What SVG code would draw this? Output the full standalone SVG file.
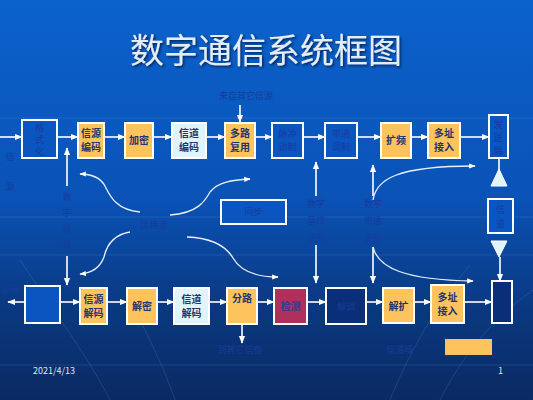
<svg xmlns="http://www.w3.org/2000/svg" width="533" height="400" viewBox="0 0 533 400">
<defs>
<linearGradient id="bg" x1="0" y1="0" x2="0" y2="1">
<stop offset="0" stop-color="#0b62cc"/>
<stop offset="0.5" stop-color="#0a52b6"/>
<stop offset="0.75" stop-color="#0a3a84"/>
<stop offset="1" stop-color="#0a2a62"/>
</linearGradient>
<marker id="ah" viewBox="0 0 10 10" refX="9" refY="5" markerWidth="5" markerHeight="5" orient="auto">
<path d="M0,1 L10,5 L0,9 z" fill="#ffffff"/>
</marker>
<filter id="sh" x="-10%" y="-10%" width="130%" height="130%">
<feDropShadow dx="1.5" dy="1.5" stdDeviation="0.8" flood-color="#001a50" flood-opacity="0.9"/>
</filter>
</defs>
<style>
text{font-family:"Noto Sans CJK SC","Liberation Sans",sans-serif;}
.org{fill:#fdc35c;stroke:#ffffff;stroke-width:2;}
.lbl{fill:#e2f4fb;stroke:#ffffff;stroke-width:2;}
.blu{fill:#0a55bf;stroke:#ffffff;stroke-width:2;}
.dbl{fill:#0a2f78;stroke:#ffffff;stroke-width:2;}
.red{fill:#b0305c;stroke:#ffffff;stroke-width:2;}
.bt{font-size:10px;font-weight:bold;fill:#253470;text-anchor:middle;}
.fd{font-size:9px;fill:#173c9c;text-anchor:middle;}
.ln{stroke:#ffffff;stroke-width:1.6;fill:none;}
.cv{stroke:#e8f0ff;stroke-width:1.3;fill:none;}
.grid{stroke:#6a9ae0;stroke-width:0.6;opacity:0.35;fill:none;}
</style>
<rect x="0" y="0" width="533" height="400" fill="url(#bg)"/>
<g id="grid">
<line class="grid" x1="0" y1="118" x2="533" y2="118"/>
<line class="grid" x1="0" y1="217" x2="533" y2="217"/>
<line class="grid" x1="0" y1="255" x2="533" y2="255"/>
<line class="grid" x1="0" y1="365" x2="533" y2="365"/>
<path class="grid" d="M20,260 C60,320 90,360 110,400"/>
<path class="grid" d="M130,300 C150,340 165,370 175,400"/>
<path class="grid" d="M390,400 C410,350 440,300 470,265"/>
<path class="grid" d="M440,400 C460,360 490,320 533,290"/>
</g>
<text x="266" y="63" font-size="34" fill="#e4ecf7" text-anchor="middle" filter="url(#sh)">数字通信系统框图</text>

<g id="connectors">
<line class="ln" x1="0" y1="137" x2="22" y2="137" marker-end="url(#ah)"/>
<line class="ln" x1="57" y1="137" x2="78" y2="137" marker-end="url(#ah)"/>
<line class="ln" x1="104" y1="137" x2="125" y2="137" marker-end="url(#ah)"/>
<line class="ln" x1="153" y1="137" x2="172" y2="137" marker-end="url(#ah)"/>
<line class="ln" x1="206" y1="137" x2="225" y2="137" marker-end="url(#ah)"/>
<line class="ln" x1="255" y1="137" x2="272" y2="137" marker-end="url(#ah)"/>
<line class="ln" x1="303" y1="137" x2="325" y2="137" marker-end="url(#ah)"/>
<line class="ln" x1="357" y1="137" x2="381" y2="137" marker-end="url(#ah)"/>
<line class="ln" x1="411" y1="137" x2="428" y2="137" marker-end="url(#ah)"/>
<line class="ln" x1="460" y1="137" x2="489" y2="137" marker-end="url(#ah)"/>
<line class="ln" x1="240" y1="105" x2="240" y2="122" marker-end="url(#ah)"/>
<line class="ln" x1="67" y1="186" x2="67" y2="148" marker-end="url(#ah)"/>
<line class="ln" x1="67" y1="256" x2="67" y2="285" marker-end="url(#ah)"/>
<line class="ln" x1="316" y1="196" x2="316" y2="162" marker-end="url(#ah)"/>
<line class="ln" x1="316" y1="245" x2="316" y2="283" marker-end="url(#ah)"/>
<line class="ln" x1="373" y1="196" x2="373" y2="165" marker-end="url(#ah)"/>
<line class="ln" x1="373" y1="247" x2="373" y2="283" marker-end="url(#ah)"/>
<path class="cv" d="M140,212 C116,210 110,196 105,186 C100,177 92,174 80,174" marker-end="url(#ah)"/>
<path class="cv" d="M170,215 C198,213 205,201 210,192 C218,182 232,180 250,179" marker-end="url(#ah)"/>
<path class="cv" d="M130,232 C112,235 106,248 104,257 C100,268 92,273 80,274" marker-end="url(#ah)"/>
<path class="cv" d="M187,237 C214,238 227,248 233,258 C241,272 258,277 278,277" marker-end="url(#ah)"/>
<path class="cv" d="M373,200 C376,180 395,166 475,166" marker-end="url(#ah)"/>
<path class="cv" d="M373,247 C378,268 405,280 473,281" marker-end="url(#ah)"/>
<line class="ln" x1="499" y1="158" x2="499" y2="170"/>
<path d="M499,169 L507,186 L491,186 z" fill="#e2f4fb" stroke="#ffffff" stroke-width="1"/>
<path d="M491,241 L507,241 L499,257 z" fill="#e2f4fb" stroke="#ffffff" stroke-width="1"/>
<line class="ln" x1="500" y1="257" x2="500" y2="281" marker-end="url(#ah)"/>
<line class="ln" x1="25" y1="302" x2="8" y2="302" marker-end="url(#ah)"/>
<line class="ln" x1="60" y1="302" x2="80" y2="302" marker-end="url(#ah)"/>
<line class="ln" x1="107" y1="302" x2="127" y2="302" marker-end="url(#ah)"/>
<line class="ln" x1="157" y1="302" x2="174" y2="302" marker-end="url(#ah)"/>
<line class="ln" x1="209" y1="302" x2="227" y2="302" marker-end="url(#ah)"/>
<line class="ln" x1="257" y1="302" x2="274" y2="302" marker-end="url(#ah)"/>
<line class="ln" x1="307" y1="302" x2="326" y2="302" marker-end="url(#ah)"/>
<line class="ln" x1="366" y1="302" x2="383" y2="302" marker-end="url(#ah)"/>
<line class="ln" x1="414" y1="302" x2="431" y2="302" marker-end="url(#ah)"/>
<line class="ln" x1="464" y1="302" x2="492" y2="302" marker-end="url(#ah)"/>
<line class="ln" x1="242" y1="324" x2="242" y2="343" marker-end="url(#ah)"/>
</g>

<g id="src-label"><text class="fd" x="10" y="160">信</text><text class="fd" x="10" y="190">源</text></g>
<g id="fmt-tx"><rect class="blu" x="22" y="120" width="35" height="38"/><text class="fd" x="39.5" y="131">格</text><text class="fd" x="39.5" y="143">式</text><text class="fd" x="39.5" y="155">化</text></g>
<g id="src-enc"><rect class="org" x="78" y="123" width="26" height="35"/><text class="bt" x="91" y="137">信源</text><text class="bt" x="91" y="151">编码</text></g>
<g id="encrypt"><rect class="org" x="125" y="123" width="28" height="35"/><text class="bt" x="139" y="144">加密</text></g>
<g id="ch-enc"><rect class="lbl" x="172" y="123" width="34" height="35"/><text class="bt" x="189" y="137">信道</text><text class="bt" x="189" y="151">编码</text></g>
<g id="mux"><rect class="org" x="225" y="123" width="30" height="35"/><text class="bt" x="240" y="137">多路</text><text class="bt" x="240" y="151">复用</text></g>
<g id="pulse-mod"><rect class="blu" x="272" y="123" width="31" height="35"/><text class="fd" x="287.5" y="137">脉冲</text><text class="fd" x="287.5" y="150">调制</text></g>
<g id="bp-mod"><rect class="blu" x="325" y="123" width="32" height="35"/><text class="fd" x="341" y="137">带通</text><text class="fd" x="341" y="150">调制</text></g>
<g id="spread"><rect class="org" x="381" y="123" width="30" height="35"/><text class="bt" x="396" y="144">扩频</text></g>
<g id="ma-tx"><rect class="org" x="428" y="123" width="32" height="35"/><text class="bt" x="444" y="137">多址</text><text class="bt" x="444" y="151">接入</text></g>
<g id="xmit"><rect class="blu" x="489" y="115" width="19" height="43"/><text class="fd" x="498.5" y="128">发</text><text class="fd" x="498.5" y="141">送</text><text class="fd" x="498.5" y="154">端</text></g>
<g id="other-src"><text class="fd" x="246" y="99">来自其它信源</text></g>
<g id="digital-info"><text class="fd" x="67" y="200">数</text><text class="fd" x="67" y="216">字</text><text class="fd" x="67" y="232">信</text><text class="fd" x="67" y="248">息</text></g>
<g id="bitstream"><text class="fd" x="154" y="228">比特流</text></g>
<g id="sync"><rect class="blu" x="221" y="200" width="65" height="24"/><text class="fd" x="253.5" y="215">同步</text></g>
<g id="bb-wave"><text class="fd" x="316" y="207">数字</text><text class="fd" x="316" y="224">基带</text><text class="fd" x="316" y="241">波形</text></g>
<g id="bp-wave"><text class="fd" x="373" y="207">数字</text><text class="fd" x="373" y="224">带通</text><text class="fd" x="373" y="241">波形</text></g>
<g id="channel"><rect class="blu" x="488" y="199" width="25" height="34"/><text class="fd" x="500.5" y="213">信</text><text class="fd" x="500.5" y="227">道</text></g>
<g id="sink-label"><text class="fd" x="10" y="292">信宿</text></g>
<g id="fmt-rx"><rect class="blu" x="25" y="286" width="35" height="37"/></g>
<g id="src-dec"><rect class="org" x="80" y="288" width="27" height="36"/><text class="bt" x="93.5" y="303">信源</text><text class="bt" x="93.5" y="317">解码</text></g>
<g id="decrypt"><rect class="org" x="127" y="288" width="30" height="36"/><text class="bt" x="142" y="310">解密</text></g>
<g id="ch-dec"><rect class="lbl" x="174" y="288" width="35" height="36"/><text class="bt" x="191.5" y="303">信道</text><text class="bt" x="191.5" y="317">解码</text></g>
<g id="demux"><rect class="org" x="227" y="288" width="30" height="36"/><text class="bt" x="242" y="302">分路</text></g>
<g id="detect"><rect class="red" x="274" y="288" width="33" height="36"/><text class="bt" x="290.5" y="310" style="fill:#2a3f95">检测</text></g>
<g id="demod"><rect class="dbl" x="326" y="288" width="40" height="36"/><text class="fd" x="346" y="310">解调</text></g>
<g id="despread"><rect class="org" x="383" y="288" width="31" height="35"/><text class="bt" x="398.5" y="310">解扩</text></g>
<g id="ma-rx"><rect class="org" x="431" y="285" width="33" height="38"/><text class="bt" x="447.5" y="301">多址</text><text class="bt" x="447.5" y="315">接入</text></g>
<g id="recv"><rect class="dbl" x="492" y="281" width="20" height="42"/></g>
<g id="other-sink"><text class="fd" x="240" y="353">到其它信宿</text></g>
<g id="ch-resp"><text class="fd" x="400" y="353">信道噪</text></g>
<g id="legend"><rect x="445" y="339" width="47" height="16" fill="#fdc35c"/></g>
<text x="33" y="374" font-size="9" fill="#dfe6f2" font-family="Liberation Sans,sans-serif">2021/4/13</text>
<text x="498" y="374" font-size="9" fill="#dfe6f2" font-family="Liberation Sans,sans-serif">1</text>
</svg>
